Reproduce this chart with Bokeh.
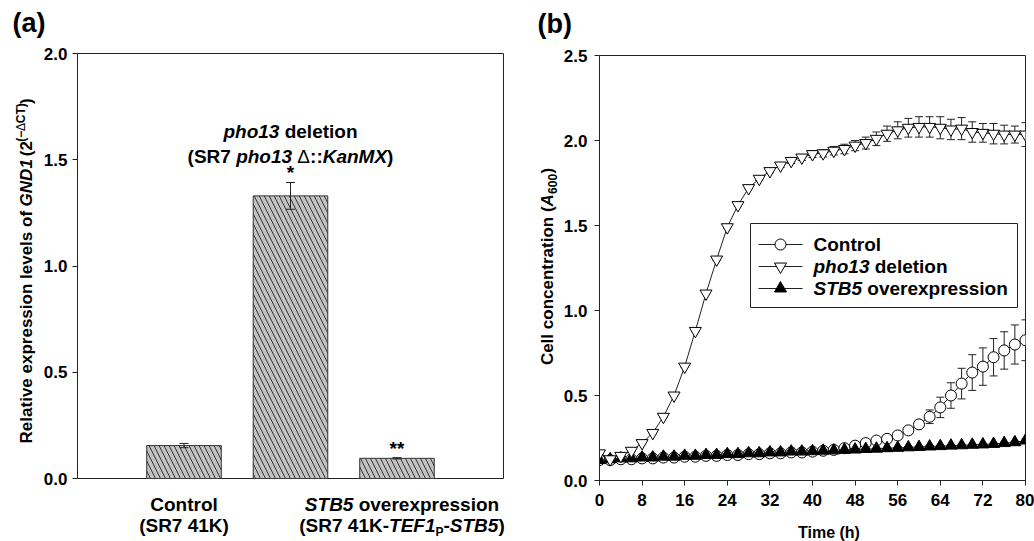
import math
import numpy as np
from bokeh.plotting import figure
from bokeh.models import (Label, Range1d, FixedTicker, Whisker, TeeHead,
                          ColumnDataSource, BoxAnnotation, NumeralTickFormatter)
from bokeh.layouts import row, column
from bokeh.embed import file_html
from bokeh.resources import INLINE

FONT = "Liberation Sans"

# ---------------- data: panel (a) ----------------
bar_names = ["Control", "pho13 deletion", "STB5 overexpression"]
bar_values = [0.155, 1.33, 0.095]
bar_errors = [0.010, 0.063, 0.003]
bar_marks = ["", "*", "**"]
a_yticks = [0.0, 0.5, 1.0, 1.5, 2.0]

# ---------------- data: panel (b) ----------------
time_h = [0, 2, 4, 6, 8, 10, 12, 14, 16, 18, 20, 22, 24, 26, 28, 30, 32, 34, 36, 38, 40,
          42, 44, 46, 48, 50, 52, 54, 56, 58, 60, 62, 64, 66, 68, 70, 72, 74, 76, 78, 80]
control = [0.12, 0.12, 0.125, 0.125, 0.13, 0.13, 0.135, 0.135, 0.14, 0.14, 0.145,
           0.145, 0.15, 0.15, 0.155, 0.155, 0.16, 0.16, 0.165, 0.165, 0.17,
           0.175, 0.18, 0.19, 0.205, 0.22, 0.235, 0.245, 0.265, 0.295, 0.33,
           0.375, 0.43, 0.50, 0.57, 0.635, 0.67, 0.725, 0.765, 0.80, 0.825]
control_err = [0.005] * 28 + [0.01, 0.015, 0.02, 0.04, 0.06, 0.075, 0.09, 0.105,
                              0.11, 0.11, 0.11, 0.115, 0.12]
pho13 = [0.16, 0.125, 0.145, 0.175, 0.22, 0.28, 0.375, 0.50, 0.67, 0.88, 1.10,
         1.30, 1.49, 1.62, 1.72, 1.775, 1.82, 1.853, 1.88, 1.90, 1.92,
         1.925, 1.94, 1.95, 1.97, 1.985, 2.01, 2.04, 2.06, 2.075, 2.08,
         2.08, 2.075, 2.065, 2.07, 2.05, 2.045, 2.04, 2.035, 2.035, 2.035]
pho13_err = [0.005] * 15 + [0.01, 0.01, 0.012, 0.015, 0.018, 0.02, 0.022, 0.025,
                            0.028, 0.03, 0.035, 0.04, 0.045, 0.05, 0.055, 0.06,
                            0.06, 0.065, 0.06, 0.065, 0.06, 0.055, 0.06, 0.055,
                            0.05, 0.07]
stb5 = [0.12, 0.125, 0.13, 0.13, 0.135, 0.135, 0.14, 0.14, 0.145, 0.145, 0.15,
        0.15, 0.155, 0.155, 0.16, 0.16, 0.165, 0.165, 0.17, 0.17, 0.172,
        0.175, 0.177, 0.18, 0.182, 0.185, 0.187, 0.19, 0.192, 0.195, 0.197,
        0.2, 0.202, 0.205, 0.207, 0.21, 0.212, 0.215, 0.22, 0.225, 0.235]
stb5_err = [0.005] * 40 + [0.01]
b_xticks = [0, 8, 16, 24, 32, 40, 48, 56, 64, 72, 80]
b_yticks = [0.0, 0.5, 1.0, 1.5, 2.0, 2.5]

# ---------------- text helpers (Arial/Liberation Sans Bold metrics) ----------------
W = {' ': 278, '(': 333, ')': 333, '*': 389, '-': 333, '.': 278, ':': 333,
     'A': 722, 'B': 722, 'C': 722, 'D': 722, 'E': 667, 'F': 611, 'G': 778, 'H': 722,
     'I': 278, 'K': 722, 'L': 611, 'M': 833, 'N': 722, 'O': 778, 'P': 667, 'R': 722,
     'S': 667, 'T': 611, 'X': 667,
     'a': 556, 'b': 611, 'c': 556, 'd': 611, 'e': 556, 'f': 333, 'g': 611, 'h': 611,
     'i': 278, 'l': 278, 'm': 889, 'n': 611, 'o': 611, 'p': 611, 'r': 389, 's': 556,
     't': 333, 'v': 556, 'x': 556, '\u0394': 668, '\u2212': 584}
for d in "0123456789":
    W[d] = 556
MID = 0.3465  # distance (em) from the middle of the text box up from the baseline


def tw(s, size):
    return sum(W.get(c, 556) for c in s) * size / 1000.0


def rich(p, x, y, segs, kx, ky, align="center", angle=0.0, pivot=False, wf=1.0):
    """(x, y) = baseline anchor; segs: (text, style, size_px, baseline_shift_px_up);
    kx, ky = px per data unit. pivot=True: first segment right-aligned at its end."""
    total = sum(tw(t, sz) * wf for t, st, sz, dy in segs)
    pos = {"left": 0.0, "center": -total / 2.0, "right": -total}[align]
    for i, (t, st, sz, dy) in enumerate(segs):
        lead = len(t) - len(t.lstrip(" "))
        core = t.strip(" ")
        start = pos + tw(" " * lead, sz) * wf
        talign = "left"
        if pivot and i == 0:
            start += tw(core, sz) * wf
            talign = "right"
        up = dy + MID * sz
        if angle == 0.0:
            lx, ly = x + start / kx, y + up / ky
        else:
            lx, ly = x - up / kx, y + start / ky
        if core:
            p.add_layout(Label(x=lx, y=ly, text=core, text_font=FONT,
                               text_font_style=st, text_font_size=f"{sz}px",
                               text_color="black", text_align=talign,
                               text_baseline="middle", angle=angle))
        pos += tw(t, sz) * wf


def style_axis(ax):
    ax.major_label_text_font = FONT
    ax.major_label_text_font_style = "bold"
    ax.major_label_text_font_size = "17px"
    ax.major_label_text_color = "black"
    ax.major_tick_out = 5
    ax.major_tick_in = 0
    ax.minor_tick_out = 0
    ax.minor_tick_in = 0
    ax.axis_line_color = "#222222"
    ax.major_tick_line_color = "#222222"
    ax.major_label_standoff = 5


def strip(w, h, xr, yr):
    s = figure(width=w, height=h, x_range=xr, y_range=yr, x_axis_type=None,
               y_axis_type=None, min_border=0, output_backend="svg",
               toolbar_location=None, title=None)
    s.outline_line_color = None
    s.grid.visible = False
    return s


# ---------------- panel (a) ----------------
AW, AH = 426, 425
pa = figure(frame_width=AW, frame_height=AH, x_range=Range1d(0, 4), y_range=Range1d(0, 2),
            output_backend="svg", toolbar_location=None,
            min_border_left=39, min_border_right=17, min_border_top=13, min_border_bottom=11)
ax_, ay_ = AW / 4.0, AH / 2.0
pa.grid.visible = False
pa.xaxis.visible = False
pa.outline_line_color = "#222222"
pa.outline_line_width = 1
pa.yaxis.ticker = FixedTicker(ticks=a_yticks)
pa.yaxis.formatter = NumeralTickFormatter(format="0.0")
style_axis(pa.yaxis[0])

xpos = np.arange(1, len(bar_values) + 1)
vals = np.array(bar_values)
errs = np.array(bar_errors)
src_a = ColumnDataSource(dict(x=xpos, top=vals, upper=vals + errs, lower=vals - errs))
pa.vbar(x="x", top="top", width=0.7, source=src_a, fill_color="#c2c2c2",
        line_color="#333333", line_width=1, hatch_pattern="\\", hatch_color="#333333",
        hatch_scale=10, hatch_weight=1)
pa.add_layout(Whisker(source=src_a, base="x", upper="upper", lower="lower",
                      line_color="#222222", line_width=1,
                      upper_head=TeeHead(size=9, line_color="#222222", line_width=1),
                      lower_head=TeeHead(size=9, line_color="#222222", line_width=1),
                      level="overlay"))
for i, m in enumerate(bar_marks):
    if m:
        rich(pa, xpos[i], vals[i] + errs[i] + 3 / ay_, [(m, "bold", 19, 0)], ax_, ay_)

# annotation above bar 2
rich(pa, xpos[1], 2.0 - 84.5 / ay_,
     [("pho13", "bold italic", 19, 0), (" deletion", "bold", 19, 0)], ax_, ay_)
rich(pa, xpos[1], 2.0 - 110 / ay_,
     [("(SR7 ", "bold", 19, 0), ("pho13", "bold italic", 19, 0), (" \u0394", "normal", 19, 0),
      ("::", "bold", 19, 0), ("KanMX", "bold italic", 19, 0), (")", "bold", 19, 0)], ax_, ay_)

# strip above (a): panel letter
ta = strip(520, 40, Range1d(0, 520), Range1d(40, 0))
rich(ta, 12, 32, [("(a)", "bold", 27, 0)], 1, -1, align="left")

# strip left of (a): y axis label, same vertical scale as pa
ya = strip(38, 449, Range1d(0, 38), Range1d(-11 / ay_, 2.0 + 13 / ay_))
rich(ya, 31.5, 1.0,
     [("Relative expression levels of ", "bold", 17, 0), ("GND1", "bold italic", 17, 0),
      (" (2", "bold", 17, 0), ("(\u2212", "bold", 12, 7), ("\u0394", "normal", 12, 7),
      ("CT)", "bold", 12, 7), (")", "bold", 17, 0)], 1, ay_, angle=math.pi / 2,
     pivot=True, wf=1.02)

# strip below (a): category labels, same horizontal scale as pa
ba = strip(520, 52, Range1d(-77 / ax_, 443 / ax_), Range1d(52, 0))
rich(ba, xpos[0], 21.5, [("Control", "bold", 19, 0)], ax_, -1)
rich(ba, xpos[0], 43, [("(SR7 41K)", "bold", 19, 0)], ax_, -1)
rich(ba, xpos[2] + 5 / ax_, 21.5,
     [("STB5", "bold italic", 19, 0), (" overexpression", "bold", 19, 0)], ax_, -1)
rich(ba, xpos[2] + 5 / ax_, 43,
     [("(SR7 41K-", "bold", 19, 0), ("TEF1", "bold italic", 19, 0), ("P", "bold", 12, -4),
      ("-", "bold", 19, 0), ("STB5", "bold italic", 19, 0), (")", "bold", 19, 0)], ax_, -1)

# ---------------- panel (b) ----------------
BW, BH = 426, 425
pb = figure(frame_width=BW, frame_height=BH, x_range=Range1d(0, 80), y_range=Range1d(0, 2.5),
            output_backend="svg", toolbar_location=None,
            min_border_left=39, min_border_right=9, min_border_top=15, min_border_bottom=36)
bx, by = BW / 80.0, BH / 2.5
pb.grid.visible = False
pb.outline_line_color = "#222222"
pb.outline_line_width = 1
pb.xaxis.ticker = FixedTicker(ticks=b_xticks)
pb.yaxis.ticker = FixedTicker(ticks=b_yticks)
pb.yaxis.formatter = NumeralTickFormatter(format="0.0")
style_axis(pb.xaxis[0])
style_axis(pb.yaxis[0])
pb.xaxis.major_label_standoff = 8
pb.yaxis.major_label_standoff = 7

t = np.array(time_h)
series = [
    ("ctrl", np.array(control), np.array(control_err), "circle", "white", 11),
    ("stb5", np.array(stb5), np.array(stb5_err), "triangle", "black", 12),
    ("pho", np.array(pho13), np.array(pho13_err), "inverted_triangle", "white", 12),
]
sources = {}
for name, v, e, mk, fc, sz in series:
    s = ColumnDataSource(dict(t=t, v=v, upper=v + e, lower=v - e))
    sources[name] = s
    pb.add_layout(Whisker(source=s, base="t", upper="upper", lower="lower",
                          line_color="#222222", line_width=1,
                          upper_head=TeeHead(size=8, line_color="#222222", line_width=1),
                          lower_head=TeeHead(size=8, line_color="#222222", line_width=1)))
for name, v, e, mk, fc, sz in series:
    pb.line(x="t", y="v", source=sources[name], line_color="#222222", line_width=1)
for name, v, e, mk, fc, sz in series:
    pb.scatter(x="t", y="v", source=sources[name], marker=mk, size=sz,
               fill_color=fc, line_color="black", line_width=1)

# legend (manual, for mixed italic text)
lg_left, lg_right, lg_top, lg_bottom = 151, 418, 168, 252
pb.add_layout(BoxAnnotation(left=lg_left / bx, right=lg_right / bx,
                            top=2.5 - lg_top / by, bottom=2.5 - lg_bottom / by,
                            fill_color="white", fill_alpha=1.0, line_color="#222222",
                            line_width=1, line_alpha=1.0))
legend_rows = [
    ("circle", "white", 11, [("Control", "bold", 19, 0)]),
    ("inverted_triangle", "white", 12, [("pho13", "bold italic", 19, 0), (" deletion", "bold", 19, 0)]),
    ("triangle", "black", 12, [("STB5", "bold italic", 19, 0), (" overexpression", "bold", 19, 0)]),
]
for k, (mk, fc, sz, segs) in enumerate(legend_rows):
    yr = 2.5 - (189 + 22 * k) / by
    pb.segment(x0=[159 / bx], y0=[yr], x1=[203 / bx], y1=[yr], line_color="#222222",
               line_width=1, level="overlay")
    pb.scatter(x=[181 / bx], y=[yr], marker=mk, size=sz, fill_color=fc,
               line_color="black", line_width=1, level="overlay")
    rich(pb, 214 / bx, yr - 7 / by, segs, bx, by, align="left")

# strip below (b): x axis title, same horizontal scale as pb
bt = strip(474, 25, Range1d(-39 / bx, 435 / bx), Range1d(25, 0))
rich(bt, 40, 21.5, [("Time (h)", "bold", 16, 0)], bx, -1)

# strip above (b): panel letter
tb = strip(514, 40, Range1d(0, 514), Range1d(40, 0))
rich(tb, 17, 33, [("(b)", "bold", 27, 0)], 1, -1, align="left")

# strip left of (b): y axis label, same vertical scale as pb
yb = strip(40, 501, Range1d(0, 40), Range1d(-61 / by, 2.5 + 15 / by))
rich(yb, 33, 1.25,
     [("Cell concentration (", "bold", 17, 0), ("A", "bold italic", 17, 0),
      ("600", "bold", 12, -3), (")", "bold", 17, 0)], 1, by, angle=math.pi / 2,
     pivot=True, wf=1.02)

left_block = column(ta, row(ya, pa), ba)
right_block = column(tb, row(yb, column(pb, bt)))
layout = row(left_block, right_block)
open("out.html", "w").write(file_html(layout, INLINE))
